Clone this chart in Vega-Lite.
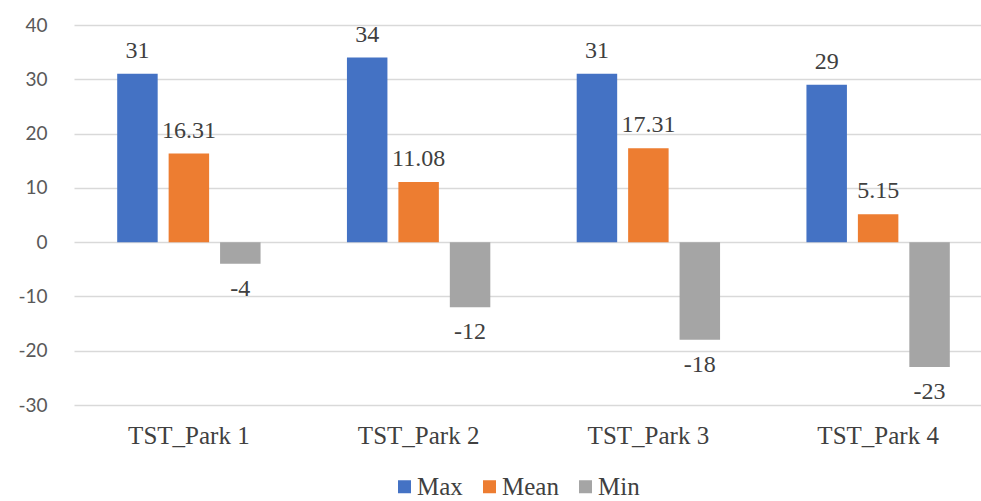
{
  "$schema": "https://vega.github.io/schema/vega-lite/v6.json",
  "width": 907,
  "height": 380,
  "autosize": "none",
  "padding": {"left": 74, "top": 25, "right": 0, "bottom": 96},
  "background": "white",
  "config": {
    "view": {"stroke": null},
    "text": {"font": "Times New Roman, Liberation Serif, serif", "fontSize": 24, "color": "#404040"}
  },
  "data": {
    "values": [
      {"park": "TST_Park 1", "stat": "Max", "value": 31},
      {"park": "TST_Park 1", "stat": "Mean", "value": 16.31},
      {"park": "TST_Park 1", "stat": "Min", "value": -4},
      {"park": "TST_Park 2", "stat": "Max", "value": 34},
      {"park": "TST_Park 2", "stat": "Mean", "value": 11.08},
      {"park": "TST_Park 2", "stat": "Min", "value": -12},
      {"park": "TST_Park 3", "stat": "Max", "value": 31},
      {"park": "TST_Park 3", "stat": "Mean", "value": 17.31},
      {"park": "TST_Park 3", "stat": "Min", "value": -18},
      {"park": "TST_Park 4", "stat": "Max", "value": 29},
      {"park": "TST_Park 4", "stat": "Mean", "value": 5.15},
      {"park": "TST_Park 4", "stat": "Min", "value": -23}
    ]
  },
  "encoding": {
    "x": {
      "field": "park",
      "type": "nominal",
      "scale": {"range": [0, 919], "paddingInner": 0.376, "paddingOuter": 0.188},
      "axis": {
        "title": null,
        "orient": "bottom",
        "offset": 0,
        "domain": false,
        "ticks": false,
        "grid": false,
        "labelAngle": 0,
        "labelFont": "Times New Roman, Liberation Serif, serif",
        "labelFontSize": 25,
        "labelColor": "#404040",
        "labelBaseline": "alphabetic",
        "labelPadding": 38
      }
    },
    "xOffset": {
      "field": "stat",
      "type": "nominal",
      "sort": ["Max", "Mean", "Min"],
      "scale": {"paddingInner": 0.213, "paddingOuter": 0}
    },
    "y": {
      "field": "value",
      "type": "quantitative",
      "scale": {"domain": [-30, 40], "nice": false, "zero": false},
      "axis": {
        "title": null,
        "values": [-30, -20, -10, 0, 10, 20, 30, 40],
        "labelExpr": "datum.value + ''",
        "domain": false,
        "ticks": false,
        "grid": true,
        "gridColor": "#d9d9d9",
        "gridWidth": 1.5,
        "labelFont": "Lato",
        "labelFontSize": 19,
        "labelColor": "#595959",
        "labelPadding": 27
      }
    }
  },
  "layer": [
    {
      "mark": {"type": "bar", "orient": "vertical"},
      "encoding": {
        "y2": {"datum": 0},
        "color": {
          "field": "stat",
          "type": "nominal",
          "sort": ["Max", "Mean", "Min"],
          "scale": {"domain": ["Max", "Mean", "Min"], "range": ["#4472c4", "#ed7d31", "#a5a5a5"]},
          "legend": {
            "title": null,
            "orient": "none",
            "direction": "horizontal",
            "legendX": 318,
            "legendY": 449,
            "symbolType": "square",
            "symbolSize": 169,
            "symbolStrokeWidth": 0,
            "labelFont": "Times New Roman, Liberation Serif, serif",
            "labelFontSize": 25,
            "labelColor": "#404040",
            "labelOffset": 0,
            "columnPadding": 14
          }
        }
      }
    },
    {
      "transform": [{"filter": "datum.value >= 0"}],
      "mark": {"type": "text", "baseline": "alphabetic", "dy": -16},
      "encoding": {"text": {"field": "value", "type": "nominal"}}
    },
    {
      "transform": [{"filter": "datum.value < 0"}],
      "mark": {"type": "text", "baseline": "top", "dy": 13},
      "encoding": {"text": {"field": "value", "type": "nominal"}}
    }
  ]
}
